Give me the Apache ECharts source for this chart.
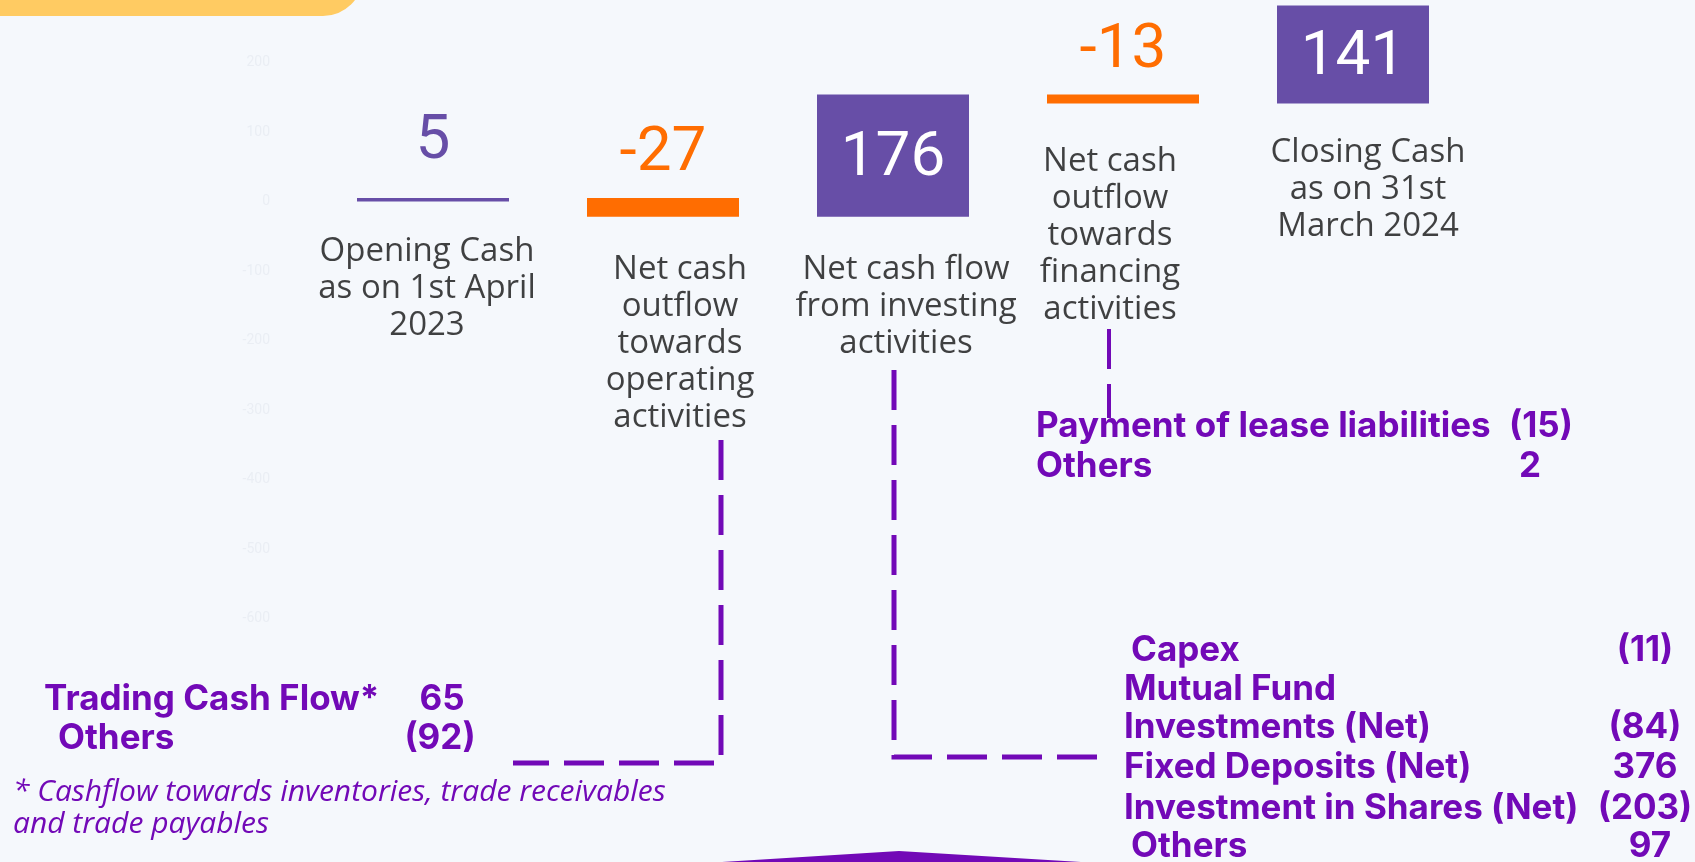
<!DOCTYPE html>
<html>
<head>
<meta charset="utf-8">
<script src="https://cdn.jsdelivr.net/npm/echarts@6/dist/echarts.min.js"></script>
<style>
  html, body { margin: 0; padding: 0; background: #f5f8fc; }
  #chart { width: 1695px; height: 862px; }
</style>
</head>
<body>
<div id="chart"></div>
<script>
// ---------- data ----------
const categories = [
  'Opening Cash\nas on 1st April\n2023',
  'Net cash\noutflow\ntowards\noperating\nactivities',
  'Net cash flow\nfrom investing\nactivities',
  'Net cash\noutflow\ntowards\nfinancing\nactivities',
  'Closing Cash\nas on 31st\nMarch 2024'
];
const values = [5, -27, 176, -13, 141];
const isTotal = [true, false, false, false, true];
const yTickMin = -600;
const yTickMax = 300;
const yTickStep = 100;

const opDetailLabels = ['Trading Cash Flow*', 'Others'];
const opDetailValues = ['65', '(92)'];
const finDetailLabels = ['Payment of lease liabilities', 'Others'];
const finDetailValues = ['(15)', '2'];
const invDetailLabels = ['Capex', 'Mutual Fund', 'Investments (Net)', 'Fixed Deposits (Net)', 'Investment in Shares (Net)', 'Others'];
const invDetailValues = ['(11)', '', '(84)', '376', '(203)', '97'];
const footnoteLines = ['* Cashflow towards inventories, trade receivables', 'and trade payables'];

// ---------- waterfall geometry (from the values) ----------
// As in the reference picture, every bar (including the closing total)
// sits on the running total reached before it.
const bases = [];
const heights = [];
let running = 0;
values.forEach((v, i) => {
  if (i === 0) { bases.push(0); heights.push(v); running = v; return; }
  if (v < 0) { bases.push(running + v); heights.push(-v); running += v; }
  else { bases.push(running); heights.push(v); if (!isTotal[i]) running += v; }
});

// ---------- styles ----------
const PURPLE_BAR = '#674ea7';
const ORANGE = '#ff6d01';
const TEXT_PURPLE = '#7209b7';
const BG = '#f5f8fc';

// per-item label tweaks (styling only)
const valueLabelDist = [25, 13, 0, 12, 0];
const captionOffsets = [[-6, 31], [17, 34], [13, 34], [-13, 39], [15, 30]];

const chart = echarts.init(document.getElementById('chart'), null, { renderer: 'canvas' });

const barData = heights.map((h, i) => {
  const neg = values[i] < 0 && !isTotal[i];
  const inside = !neg && h > 50;
  return {
    value: h,
    itemStyle: { color: neg ? ORANGE : PURPLE_BAR },
    label: {
      show: true,
      position: inside ? 'inside' : 'top',
      distance: valueLabelDist[i],
      offset: inside ? [0, 4] : [0, 0],
      color: inside ? '#ffffff' : (neg ? ORANGE : PURPLE_BAR),
      fontFamily: 'Roboto',
      fontSize: 62,
      formatter: () => String(values[i])
    }
  };
});

const captionData = bases.map((b, i) => ({
  value: [i, b],
  label: {
    show: true,
    position: 'bottom',
    distance: 0,
    offset: captionOffsets[i],
    formatter: categories[i]
  }
}));

const boldText = (text, x, y, align) => ({
  type: 'text',
  x: x, y: y,
  style: {
    text: text,
    fill: TEXT_PURPLE,
    font: '700 35px Inter',
    textAlign: align || 'left',
    textVerticalAlign: 'middle'
  }
});

const graphics = [];
// slide decorations
graphics.push({ type: 'rect', shape: { x: -60, y: -60, width: 423, height: 76, r: [0, 0, 40, 0] }, style: { fill: '#ffcb62' }, silent: true });
graphics.push({ type: 'polygon', shape: { points: [[722, 862], [899, 851], [1081, 862]] }, style: { fill: TEXT_PURPLE }, silent: true });
// dashed connectors
const dash = { stroke: TEXT_PURPLE, lineWidth: 5, lineDash: [40, 15], fill: null };
graphics.push({ type: 'polyline', shape: { points: [[721, 440], [721, 763], [513, 763]] }, style: dash });
graphics.push({ type: 'polyline', shape: { points: [[894, 370], [894, 757], [1110, 757]] }, style: dash });
graphics.push({ type: 'polyline', shape: { points: [[1109, 329], [1109, 418]] }, style: Object.assign({}, dash, { lineWidth: 4 }) });

// operating detail
const opY = [699, 738];
const opX = [44, 58];
const opValX = [442, 440];
opDetailLabels.forEach((t, i) => {
  graphics.push(boldText(t, opX[i], opY[i]));
  graphics.push(boldText(opDetailValues[i], opValX[i], opY[i], 'center'));
});
// financing detail
const finY = [426, 466];
const finValX = [1541, 1530];
finDetailLabels.forEach((t, i) => {
  graphics.push(boldText(t, 1036, finY[i]));
  graphics.push(boldText(finDetailValues[i], finValX[i], finY[i], 'center'));
});
// investing detail
const invY = [650, 689, 727, 767, 808, 846];
const invX = [1131, 1124, 1124, 1124, 1124, 1131];
const invValX = [1645, 1645, 1645, 1645, 1645, 1650];
invDetailLabels.forEach((t, i) => {
  graphics.push(boldText(t, invX[i], invY[i]));
  if (invDetailValues[i]) graphics.push(boldText(invDetailValues[i], invValX[i], invY[i], 'center'));
});
// footnote
const fnY = [792, 824];
footnoteLines.forEach((t, i) => {
  graphics.push({
    type: 'text', x: 13, y: fnY[i],
    style: { text: t, fill: TEXT_PURPLE, font: 'italic 400 30px "Open Sans"', textVerticalAlign: 'middle' }
  });
});

chart.setOption({
  backgroundColor: BG,
  animation: false,
  grid: { left: 318, right: 227, top: -7, bottom: 243.5, containLabel: false, outerBoundsMode: 'none' },
  xAxis: {
    type: 'category',
    data: categories,
    axisLine: { show: false },
    axisTick: { show: false },
    axisLabel: { show: false },
    splitLine: { show: false }
  },
  yAxis: {
    type: 'value',
    min: yTickMin,
    max: yTickMax,
    interval: yTickStep,
    axisLine: { show: false },
    axisTick: { show: false },
    splitLine: { show: false },
    axisLabel: { color: '#eaeef4', fontSize: 14, margin: 48, fontFamily: 'Roboto' }
  },
  series: [
    {
      name: 'base',
      type: 'bar',
      stack: 'wf',
      stackStrategy: 'all',
      barWidth: 152,
      itemStyle: { color: 'transparent' },
      emphasis: { disabled: true },
      data: bases
    },
    {
      name: 'flow',
      type: 'bar',
      stack: 'wf',
      stackStrategy: 'all',
      barWidth: 152,
      emphasis: { disabled: true },
      data: barData
    },
    {
      name: 'captions',
      type: 'scatter',
      symbolSize: 1,
      itemStyle: { color: 'transparent' },
      label: {
        color: '#111111',
        fontFamily: '"Open Sans"',
        fontSize: 33,
        lineHeight: 37,
        align: 'center'
      },
      emphasis: { disabled: true },
      data: captionData
    }
  ],
  graphic: graphics
});
</script>
</body>
</html>
